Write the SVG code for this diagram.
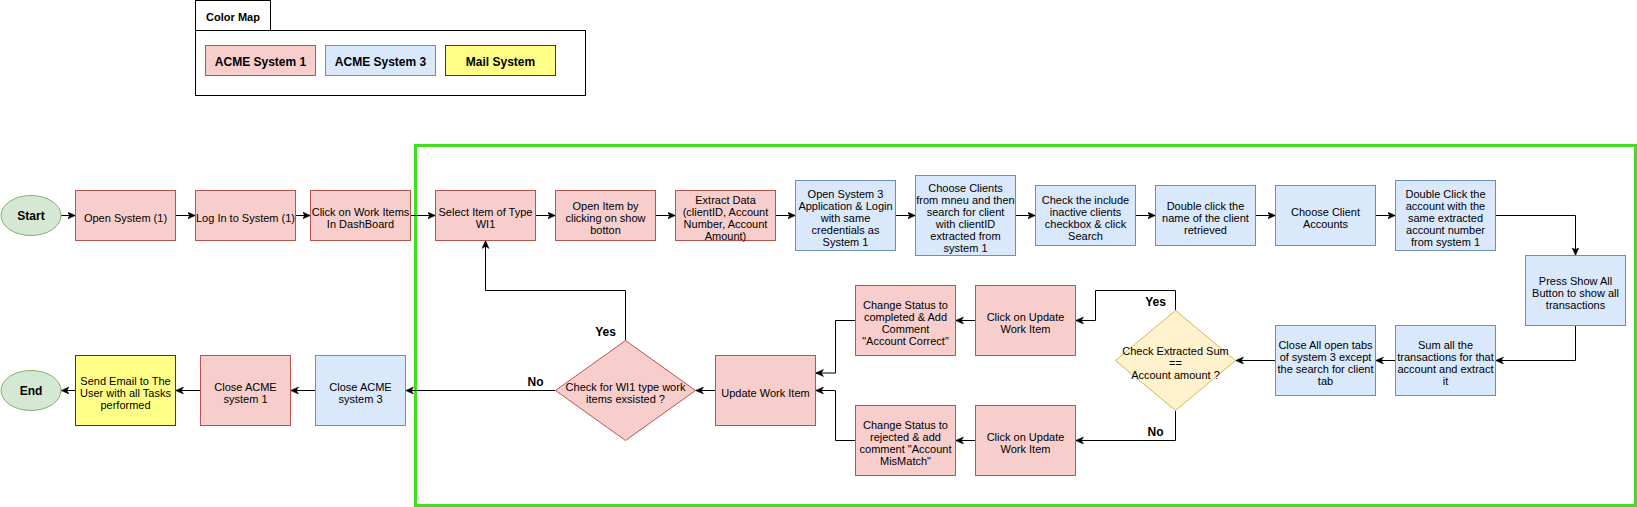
<svg xmlns="http://www.w3.org/2000/svg" width="1637" height="507" viewBox="0 0 1637 507">
<style>
text{font-family:"Liberation Sans",Arial,sans-serif;font-size:11px;fill:#000;text-anchor:middle}
.b{font-weight:bold;font-size:12px}
.cm{font-weight:bold;font-size:11px}
.r{fill:#f8cecc;stroke:#b85450;stroke-width:1}
.u{fill:#dae8fc;stroke:#6c8ebf;stroke-width:1}
.y{fill:#ffff88;stroke:#36393d;stroke-width:1}
.d{fill:#fff2cc;stroke:#d6b656;stroke-width:1}
.g{fill:#d5e8d4;stroke:#82b366;stroke-width:1}
.k{fill:#fff;stroke:#000;stroke-width:1}
.e{fill:none;stroke:#000;stroke-width:1;marker-end:url(#a)}
</style>
<defs>
<marker id="a" markerUnits="userSpaceOnUse" markerWidth="9" markerHeight="8" refX="8" refY="3.5" orient="auto" viewBox="0 0 9 8">
<path d="M0,0 L8,3.5 L0,7 L2.2,3.5 Z" fill="#000" stroke="#000" stroke-width="0.5"/>
</marker>
</defs>
<rect width="1637" height="507" fill="#fff"/>
<g transform="translate(0.5,0.5)">
<g id="colormap">
<rect class="k" x="195" y="0" width="75" height="30"/>
<rect class="k" x="195" y="30" width="390" height="65"/>
<text class="cm" x="232.5" y="20">Color Map</text>
<rect class="r" x="205" y="45" width="110" height="30"/>
<text class="b" x="260" y="65">ACME System 1</text>
<rect class="u" x="325" y="45" width="110" height="30"/>
<text class="b" x="380" y="65">ACME System 3</text>
<rect class="y" x="445" y="45" width="110" height="30"/>
<text class="b" x="500" y="65">Mail System</text>
</g>
<g id="loop-frame">
<rect x="415" y="145" width="1220" height="360" fill="none" stroke="#40e020" stroke-width="3"/>
</g>
<g id="connectors">
<path class="e" d="M60.5,215 L75,215"/>
<path class="e" d="M175,215 L195,215"/>
<path class="e" d="M295,215 L310,215"/>
<path class="e" d="M410,215 L435,215"/>
<path class="e" d="M535,215 L555,215"/>
<path class="e" d="M655,215 L675,215"/>
<path class="e" d="M775,215 L795,215"/>
<path class="e" d="M895,215 L915,215"/>
<path class="e" d="M1015,215 L1035,215"/>
<path class="e" d="M1135,215 L1155,215"/>
<path class="e" d="M1255,215 L1275,215"/>
<path class="e" d="M1375,215 L1395,215"/>
<path class="e" d="M1495,215 L1575,215 L1575,255"/>
<path class="e" d="M1575,325 L1575,360 L1495,360"/>
<path class="e" d="M1395,360 L1375,360"/>
<path class="e" d="M1275,360 L1235,360"/>
<path class="e" d="M1175,310 L1175,290 L1095,290 L1095,320 L1075,320"/>
<path class="e" d="M1175,410 L1175,440 L1075,440"/>
<path class="e" d="M975,320 L955,320"/>
<path class="e" d="M975,440 L955,440"/>
<path class="e" d="M855,320 L835,320 L835,372.5 L815,372.5"/>
<path class="e" d="M855,440 L835,440 L835,390 L815,390"/>
<path class="e" d="M715,390 L695,390"/>
<path class="e" d="M625,340 L625,290 L485,290 L485,240"/>
<path class="e" d="M555,390 L405,390"/>
<path class="e" d="M315,390 L290,390"/>
<path class="e" d="M200,390 L175,390"/>
<path class="e" d="M75,390 L60.5,390"/>
<text class="b" x="1155" y="305">Yes</text>
<text class="b" x="1155" y="435">No</text>
<text class="b" x="605" y="335">Yes</text>
<text class="b" x="535" y="385">No</text>
</g>
<g id="start"><ellipse class="g" cx="30.5" cy="215" rx="30" ry="20"/><text class="b" x="30.5" y="219.5">Start</text></g>
<g id="open-system"><rect class="r" x="75" y="190" width="100" height="50"/><text x="125" y="221">Open System (1)</text></g>
<g id="login"><rect class="r" x="195" y="190" width="100" height="50"/><text x="245" y="221">Log In to System (1)</text></g>
<g id="click-work-items"><rect class="r" x="310" y="190" width="100" height="50"/><text x="360" y="215"><tspan x="360">Click on Work Items</tspan><tspan x="360" dy="12">In DashBoard</tspan></text></g>
<g id="select-item"><rect class="r" x="435" y="190" width="100" height="50"/><text x="485" y="215"><tspan x="485">Select Item of Type</tspan><tspan x="485" dy="12">WI1</tspan></text></g>
<g id="open-item"><rect class="r" x="555" y="190" width="100" height="50"/><text x="605" y="209"><tspan x="605">Open Item by</tspan><tspan x="605" dy="12">clicking on show</tspan><tspan x="605" dy="12">botton</tspan></text></g>
<g id="extract-data"><rect class="r" x="675" y="190" width="100" height="50"/><text x="725" y="203"><tspan x="725">Extract Data</tspan><tspan x="725" dy="12">(clientID, Account</tspan><tspan x="725" dy="12">Number, Account</tspan><tspan x="725" dy="12">Amount)</tspan></text></g>
<g id="open-system3"><rect class="u" x="795" y="180" width="100" height="70"/><text x="845" y="197"><tspan x="845">Open System 3</tspan><tspan x="845" dy="12">Application &amp; Login</tspan><tspan x="845" dy="12">with same</tspan><tspan x="845" dy="12">credentials as</tspan><tspan x="845" dy="12">System 1</tspan></text></g>
<g id="choose-clients"><rect class="u" x="915" y="175" width="100" height="80"/><text x="965" y="191"><tspan x="965">Choose Clients</tspan><tspan x="965" dy="12">from mneu and then</tspan><tspan x="965" dy="12">search for client</tspan><tspan x="965" dy="12">with clientID</tspan><tspan x="965" dy="12">extracted from</tspan><tspan x="965" dy="12">system 1</tspan></text></g>
<g id="check-include"><rect class="u" x="1035" y="185" width="100" height="60"/><text x="1085" y="203"><tspan x="1085">Check the include</tspan><tspan x="1085" dy="12">inactive clients</tspan><tspan x="1085" dy="12">checkbox &amp; click</tspan><tspan x="1085" dy="12">Search</tspan></text></g>
<g id="double-click-client"><rect class="u" x="1155" y="185" width="100" height="60"/><text x="1205" y="209"><tspan x="1205">Double click the</tspan><tspan x="1205" dy="12">name of the client</tspan><tspan x="1205" dy="12">retrieved</tspan></text></g>
<g id="choose-accounts"><rect class="u" x="1275" y="185" width="100" height="60"/><text x="1325" y="215"><tspan x="1325">Choose Client</tspan><tspan x="1325" dy="12">Accounts</tspan></text></g>
<g id="double-click-account"><rect class="u" x="1395" y="180" width="100" height="70"/><text x="1445" y="197"><tspan x="1445">Double Click the</tspan><tspan x="1445" dy="12">account with the</tspan><tspan x="1445" dy="12">same extracted</tspan><tspan x="1445" dy="12">account number</tspan><tspan x="1445" dy="12">from system 1</tspan></text></g>
<g id="show-all"><rect class="u" x="1525" y="255" width="100" height="70"/><text x="1575" y="284"><tspan x="1575">Press Show All</tspan><tspan x="1575" dy="12">Button to show all</tspan><tspan x="1575" dy="12">transactions</tspan></text></g>
<g id="sum-all"><rect class="u" x="1395" y="325" width="100" height="70"/><text x="1445" y="348"><tspan x="1445">Sum all the</tspan><tspan x="1445" dy="12">transactions for that</tspan><tspan x="1445" dy="12">account and extract</tspan><tspan x="1445" dy="12">it</tspan></text></g>
<g id="close-tabs"><rect class="u" x="1275" y="325" width="100" height="70"/><text x="1325" y="348"><tspan x="1325">Close All open tabs</tspan><tspan x="1325" dy="12">of system 3 except</tspan><tspan x="1325" dy="12">the search for client</tspan><tspan x="1325" dy="12">tab</tspan></text></g>
<g id="check-sum"><polygon class="d" points="1175,310 1235,360 1175,410 1115,360"/><text x="1175" y="354"><tspan x="1175">Check Extracted Sum</tspan><tspan x="1175" dy="12">==</tspan><tspan x="1175" dy="12">Account amount ?</tspan></text></g>
<g id="click-update-yes"><rect class="r" x="975" y="285" width="100" height="70"/><text x="1025" y="320"><tspan x="1025">Click on Update</tspan><tspan x="1025" dy="12">Work Item</tspan></text></g>
<g id="click-update-no"><rect class="r" x="975" y="405" width="100" height="70"/><text x="1025" y="440"><tspan x="1025">Click on Update</tspan><tspan x="1025" dy="12">Work Item</tspan></text></g>
<g id="status-completed"><rect class="r" x="855" y="285" width="100" height="70"/><text x="905" y="308"><tspan x="905">Change Status to</tspan><tspan x="905" dy="12">completed &amp; Add</tspan><tspan x="905" dy="12">Comment</tspan><tspan x="905" dy="12">"Account Correct"</tspan></text></g>
<g id="status-rejected"><rect class="r" x="855" y="405" width="100" height="70"/><text x="905" y="428"><tspan x="905">Change Status to</tspan><tspan x="905" dy="12">rejected &amp; add</tspan><tspan x="905" dy="12">comment "Account</tspan><tspan x="905" dy="12">MisMatch"</tspan></text></g>
<g id="update-work-item"><rect class="r" x="715" y="355" width="100" height="70"/><text x="765" y="396">Update Work Item</text></g>
<g id="check-wi1"><polygon class="r" points="625,340 695,390 625,440 555,390"/><text x="625" y="390"><tspan x="625">Check for WI1 type work</tspan><tspan x="625" dy="12">items exsisted ?</tspan></text></g>
<g id="close-acme3"><rect class="u" x="315" y="355" width="90" height="70"/><text x="360" y="390"><tspan x="360">Close ACME</tspan><tspan x="360" dy="12">system 3</tspan></text></g>
<g id="close-acme1"><rect class="r" x="200" y="355" width="90" height="70"/><text x="245" y="390"><tspan x="245">Close ACME</tspan><tspan x="245" dy="12">system 1</tspan></text></g>
<g id="send-email"><rect class="y" x="75" y="355" width="100" height="70"/><text x="125" y="384"><tspan x="125">Send Email to The</tspan><tspan x="125" dy="12">User with all Tasks</tspan><tspan x="125" dy="12">performed</tspan></text></g>
<g id="end"><ellipse class="g" cx="30.5" cy="390" rx="30" ry="20"/><text class="b" x="30.5" y="394.5">End</text></g>
</g>
</svg>
